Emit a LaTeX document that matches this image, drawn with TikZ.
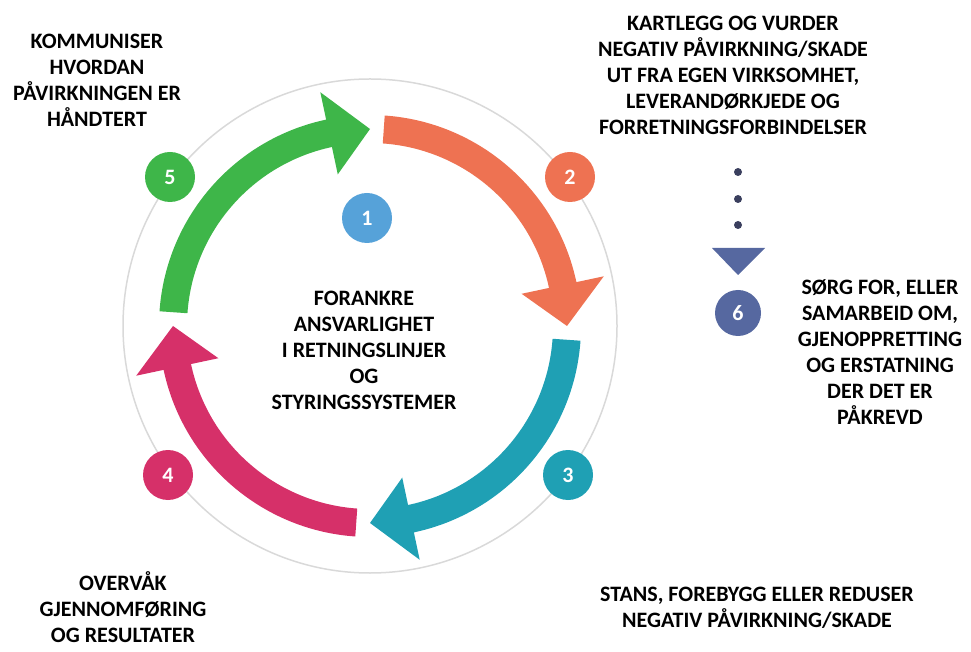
\documentclass[tikz,border=0pt]{standalone}
\usepackage{fontspec}
\setmainfont{Carlito}
\definecolor{cyclegreen}{HTML}{3EB649}
\definecolor{cycleorange}{HTML}{EE7252}
\definecolor{cycleteal}{HTML}{1FA0B4}
\definecolor{cyclemagenta}{HTML}{D63069}
\definecolor{cycleblue}{HTML}{56A2D9}
\definecolor{cycleslate}{HTML}{5668A0}
\definecolor{dotgrey}{HTML}{3A3F5E}
\begin{document}
\begin{tikzpicture}[x=1pt,y=1pt,
  badge/.style={circle,minimum size=50pt,inner sep=0pt,text=white,
    font=\fontsize{22}{22}\selectfont\bfseries},
  caption/.style={align=center,font=\fontsize{22}{26}\selectfont\bfseries}]
  \useasboundingbox (0,0) rectangle (971,651);
  \coordinate (C) at (370,325);
  \draw[black!15,line width=1.5pt] (C) circle (247);%
  % the four arrows of the cycle
  \foreach \t/\col in {90/cyclegreen,0/cycleorange,-90/cycleteal,180/cyclemagenta}{
    \fill[\col,shift={(C)}] (\t+86:211) arc[start angle=\t+86,end angle=\t+12,radius=211]
      -- (\t+12:239) -- (\t:197) -- (\t+12:155) -- (\t+12:183)
      arc[start angle=\t+12,end angle=\t+86,radius=183] -- cycle;
  }
  \node[badge,fill=cycleblue] (b1) at (367,433) {1};
  \node[badge,fill=cycleorange] (b2) at (570,474) {2};
  \node[badge,fill=cycleteal] (b3) at (568,176) {3};
  \node[badge,fill=cyclemagenta] (b4) at (168,176) {4};
  \node[badge,fill=cyclegreen] (b5) at (170,474) {5};
  \node[badge,fill=cycleslate,minimum size=46pt] (b6) at (738,338) {6};
  % dotted pointer down to 6
  \foreach \y in {479,452,426} \fill[dotgrey] (738,\y) circle (4);
  \fill[cycleslate] (712,403) -- (765,403) -- (738,376) -- cycle;
  \node[caption] (t1) at (364,301) {FORANKRE\\ANSVARLIGHET\\I RETNINGSLINJER\\OG\\STYRINGSSYSTEMER};
  \node[caption] (t2) at (733,576) {KARTLEGG OG VURDER\\NEGATIV PÅVIRKNING/SKADE\\UT FRA EGEN VIRKSOMHET,\\LEVERANDØRKJEDE OG\\FORRETNINGSFORBINDELSER};
  \node[caption] (t3) at (757,43) {STANS, FOREBYGG ELLER REDUSER\\NEGATIV PÅVIRKNING/SKADE};
  \node[caption] (t4) at (123,44) {OVERVÅK\\GJENNOMFØRING\\OG RESULTATER};
  \node[caption] (t5) at (97,571) {KOMMUNISER\\HVORDAN\\PÅVIRKNINGEN ER\\HÅNDTERT};
  \node[caption] (t6) at (880,299) {SØRG FOR, ELLER\\SAMARBEID OM,\\GJENOPPRETTING\\OG ERSTATNING\\DER DET ER\\PÅKREVD};
\end{tikzpicture}
\end{document}
